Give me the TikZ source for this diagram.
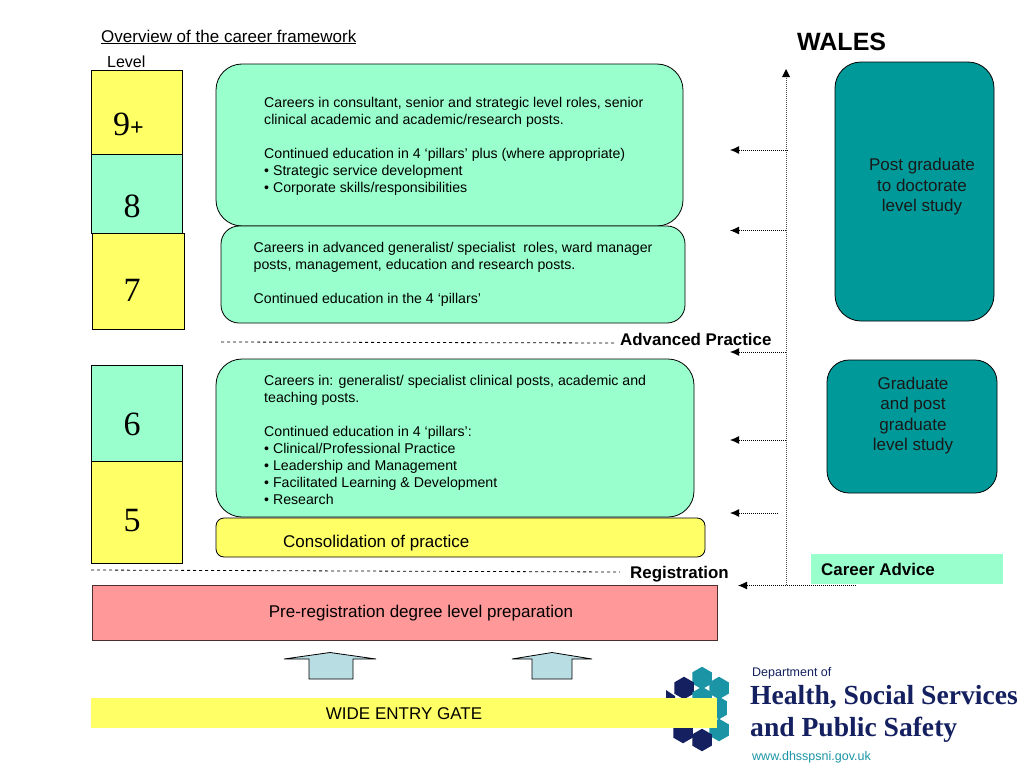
\documentclass[tikz,border=0pt]{standalone}
\usepackage{fontspec}
\setmainfont{Liberation Sans}
\newfontfamily\serifb{Liberation Serif}
\usetikzlibrary{arrows.meta,shapes.geometric}
\definecolor{mint}{HTML}{99FFCC}
\definecolor{lemon}{HTML}{FFFF66}
\definecolor{tealbox}{HTML}{009999}
\definecolor{pinkbox}{HTML}{FF9999}
\definecolor{arrowblue}{HTML}{B8DDE2}
\definecolor{navyhex}{HTML}{14205F}
\definecolor{tealhex}{HTML}{1B94A5}
\tikzset{
 x=1pt,y=-1pt,
 levelnum/.style={font=\serifb\fontsize{34}{34}\selectfont},
 panel/.style={draw=black,line width=0.8pt,fill=mint,rounded corners=26pt},
 bodytext/.style={font=\fontsize{14.15}{17}\selectfont,align=left,anchor=north west,inner sep=0pt},
 sidetext/.style={font=\fontsize{17}{20.5}\selectfont,align=center,text=black!90},
 boldlabel/.style={font=\bfseries\fontsize{16.9}{18}\selectfont,inner sep=0pt},
 plainlabel/.style={font=\fontsize{17}{18}\selectfont},
 dotarrow/.style={densely dotted,line width=1pt,-{Latex[length=9pt,width=8pt]}},
 dotline/.style={densely dotted,line width=1pt,black!70},
 dashrule/.style={dashed,line width=0.8pt},
 hexn/.style={regular polygon,regular polygon sides=6,minimum size=22.5pt,inner sep=0pt,fill=navyhex,shape border rotate=30},
 hext/.style={hexn,fill=tealhex},
 uparrow/.style={draw=black,line width=0.8pt,fill=arrowblue},
}
\begin{document}
\begin{tikzpicture}
\useasboundingbox (0,0) rectangle (1024,768);
% titles
\node[plainlabel,anchor=base west,inner sep=0pt] (title) at (101,42) {\underline{Overview of the career framework}};
\node[font=\fontsize{16}{18}\selectfont,anchor=base west,inner sep=0pt] (level) at (107,67) {Level};
\node[font=\bfseries\fontsize{25}{28}\selectfont,anchor=base west,inner sep=0pt] (wales) at (797,51) {WALES};
% level boxes
\path[draw=black,line width=0.7pt,fill=lemon] (91,70) rectangle (182,154);
\path[draw=black,line width=0.7pt,fill=mint] (91,154) rectangle (182,233);
\path[draw=black,line width=0.7pt,fill=lemon] (92,233) rectangle (184,329);
\path[draw=black,line width=0.7pt,fill=mint] (91,365) rectangle (182,461);
\path[draw=black,line width=0.7pt,fill=lemon] (91,461) rectangle (182,563);
\node[levelnum,anchor=base west,inner sep=0pt] (n9) at (113,135) {9\fontsize{24}{24}\selectfont\bfseries+};
\node[levelnum,anchor=base,inner sep=0pt] (n8) at (132,217) {8};
\node[levelnum,anchor=base,inner sep=0pt] (n7) at (132,301) {7};
\node[levelnum,anchor=base,inner sep=0pt] (n6) at (132,435) {6};
\node[levelnum,anchor=base,inner sep=0pt] (n5) at (132,531) {5};
% panels
\draw[panel] (216,64) rectangle (683,226);
\draw[panel,rounded corners=18pt] (221,226) rectangle (685,323);
\draw[panel] (216,359) rectangle (694,517);
\draw[line width=0.8pt,fill=lemon,rounded corners=8pt] (216,518) rectangle (705,557);
\node[bodytext] (p1) at (264,97) {Careers in consultant, senior and strategic level roles, senior\\clinical academic and academic/research posts.\\[17pt]Continued education in 4 ‘pillars’ plus (where appropriate)\\• Strategic service development\\• Corporate skills/responsibilities};
\node[bodytext] (p2) at (253.5,242) {Careers in advanced generalist/ specialist\ \ roles, ward manager\\posts, management, education and research posts.\\[17pt]Continued education in the 4 ‘pillars’};
\node[bodytext] (p3) at (264,375) {Careers in: generalist/ specialist clinical posts, academic and\\teaching posts.\\[17pt]Continued education in 4 ‘pillars’:\\• Clinical/Professional Practice\\• Leadership and Management\\• Facilitated Learning \& Development\\• Research};
\node[plainlabel,anchor=base west,inner sep=0pt] (cons) at (283,547) {Consolidation of practice};
% teal boxes
\draw[draw=black,line width=0.8pt,fill=tealbox,rounded corners=26pt] (835,62) rectangle (994,321);
\node[sidetext] (t1) at (922,187) {Post graduate\\to doctorate\\level study};
\draw[draw=black,line width=0.8pt,fill=tealbox,rounded corners=22pt] (827,360) rectangle (997,493);
\node[sidetext] (t2) at (913,415.5) {Graduate\\and post\\graduate\\level study};
% career advice
\path[fill=mint] (811,554) rectangle (1003,584);
\node[boldlabel,anchor=base west] (advice) at (821,575) {Career Advice};
% rules
\coordinate (ra) at (221,342); \coordinate (rb) at (615,343);
\draw[dashrule] (ra) -- (rb);
\node[boldlabel,anchor=base west] (adv) at (620,345) {Advanced Practice};
\coordinate (rc) at (91,570); \coordinate (rd) at (620,572);
\draw[dashrule] (rc) -- (rd);
\node[boldlabel,anchor=base west] (reg) at (630,578) {Registration};
% pre-registration
\path[draw=black!70!pinkbox,line width=0.7pt,fill=pinkbox] (92,585) rectangle (717,640);
\node[plainlabel] (pre) at (421,613) {Pre-registration degree level preparation};
% up arrows
\draw[uparrow] (309,679) -- (309,659) -- (284,659) -- (330,652.5) -- (376,659) -- (353,659) -- (353,679) -- cycle;
\draw[uparrow] (532,679) -- (532,659) -- (512,659) -- (552,652.5) -- (592,659) -- (572,659) -- (572,679) -- cycle;
% logo
\node[hext] (h1) at (702,678) {};
\node[hext] (h2) at (719,688) {};
\node[hexn] (h3) at (684,688) {};
\node[hext] (h4) at (702,698) {};
\node[hext] (h5) at (719,708) {};
\node[hext] (h6) at (719,730) {};
\node[hexn] (h7) at (683,732) {};
\node[hexn] (h8) at (702,740) {};
\fill[navyhex] (666,690) -- (675,696) -- (675,708) -- (666,708) -- cycle;
\fill[white] (727,700) -- (735,708) -- (727,716) -- cycle;
\path[fill=lemon] (91,698) rectangle (717,728);
\node[plainlabel] (gate) at (404,714) {WIDE ENTRY GATE};
\node[font=\fontsize{12.5}{14}\selectfont,anchor=base west,inner sep=0pt,text=navyhex] (d1) at (752,676) {Department of};
\node[font=\serifb\bfseries\fontsize{27.6}{30}\selectfont,anchor=base west,inner sep=0pt,text=navyhex] (d2) at (750,704) {Health, Social Services};
\node[font=\serifb\bfseries\fontsize{27.6}{30}\selectfont,anchor=base west,inner sep=0pt,text=navyhex] (d3) at (750,736) {and Public Safety};
\node[font=\fontsize{12.5}{14}\selectfont,anchor=base west,inner sep=0pt,text=tealhex] (d4) at (752,760) {www.dhsspsni.gov.uk};
% connectors
\coordinate (vb) at (786,585); \coordinate (vt) at (786,69);
\draw[dotline] (vb) -- (786,76);
\fill[black] (vt) -- (782,77) -- (790,77) -- cycle;
\coordinate (a1s) at (788,150); \coordinate (a1e) at (730,150);
\coordinate (a2s) at (786,230.5); \coordinate (a2e) at (730,230.5);
\coordinate (a3s) at (786,352); \coordinate (a3e) at (730,352);
\coordinate (a4s) at (786,440); \coordinate (a4e) at (730,440);
\coordinate (a5s) at (778,513); \coordinate (a5e) at (730,513);
\coordinate (a6s) at (856,585.5); \coordinate (a6e) at (738,585.5);
\foreach \n in {1,...,6} \draw[dotarrow] (a\n s) -- (a\n e);
\end{tikzpicture}
\end{document}
